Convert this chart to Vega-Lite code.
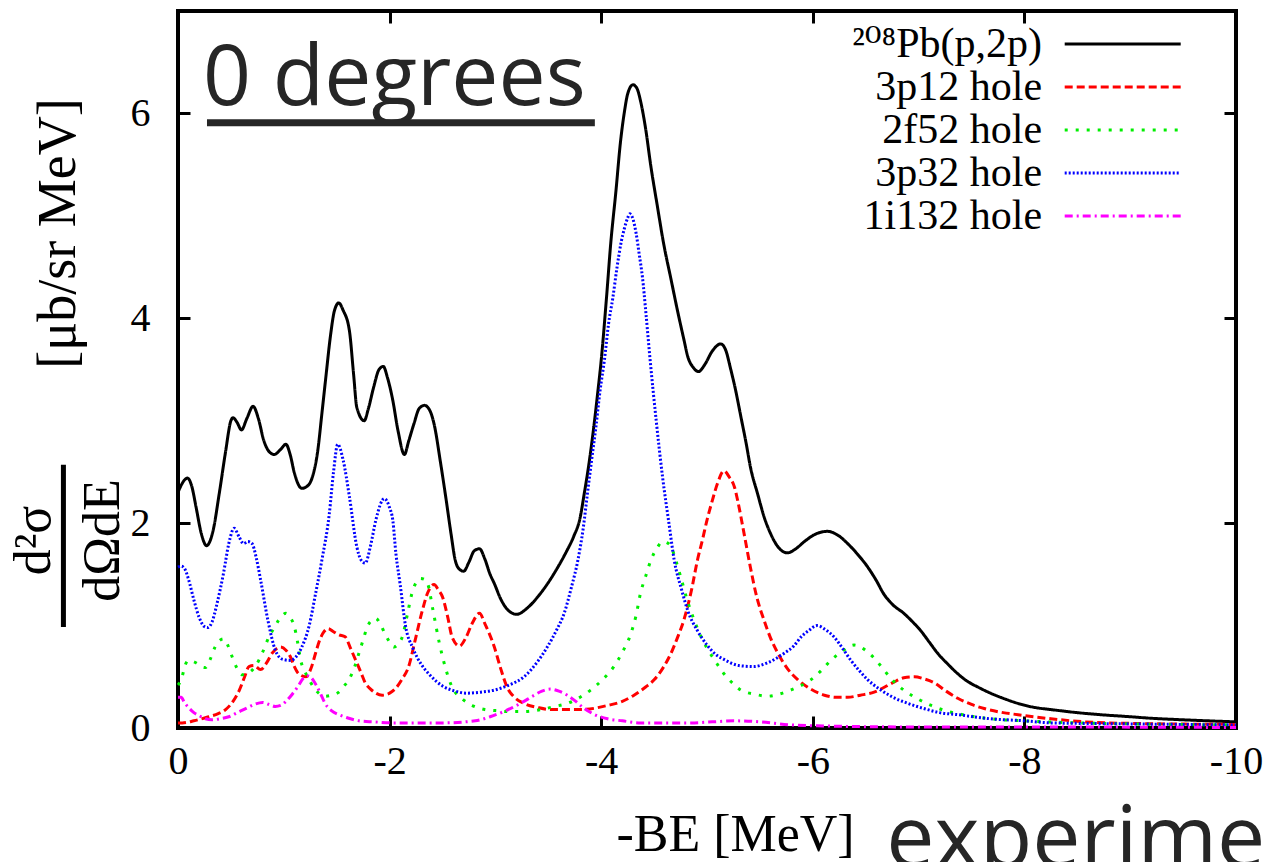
{
  "$schema": "https://vega.github.io/schema/vega-lite/v6.json",
  "width": 1058,
  "height": 717,
  "autosize": "none",
  "padding": {"left": 178, "top": 11, "right": 32, "bottom": 134},
  "background": "white",
  "config": {
    "view": {"stroke": "black", "strokeWidth": 4},
    "axis": {"grid": false, "domain": false, "tickColor": "black", "tickWidth": 3, "tickSize": -12,
      "labelFont": "Liberation Serif", "labelFontSize": 40, "labelColor": "black",
      "titleFont": "Liberation Serif", "titleFontWeight": "normal", "titleColor": "black"},
    "legend": {"orient": "none", "legendX": 890, "legendY": 12, "padding": 0, "symbolType": "M-10,0H10",
      "symbolSize": 134.56, "symbolStrokeWidth": 3, "symbolOffset": 33.7, "labelFont": "Liberation Serif, DejaVu Serif", "labelFontSize": 42,
      "labelColor": "black", "labelAlign": "right", "labelOffset": -101.6,
      "rowPadding": 1, "labelLimit": 0}
  },
  "datasets": {
    "curves": [
      {"series":"²⁰⁸Pb(p,2p)","be":0,"sigma":2.3},{"series":"²⁰⁸Pb(p,2p)","be":-0.03,"sigma":2.37},{"series":"²⁰⁸Pb(p,2p)","be":-0.09,"sigma":2.44},{"series":"²⁰⁸Pb(p,2p)","be":-0.13,"sigma":2.36},{"series":"²⁰⁸Pb(p,2p)","be":-0.17,"sigma":2.16},{"series":"²⁰⁸Pb(p,2p)","be":-0.22,"sigma":1.9},{"series":"²⁰⁸Pb(p,2p)","be":-0.27,"sigma":1.78},{"series":"²⁰⁸Pb(p,2p)","be":-0.33,"sigma":1.92},{"series":"²⁰⁸Pb(p,2p)","be":-0.39,"sigma":2.29},{"series":"²⁰⁸Pb(p,2p)","be":-0.45,"sigma":2.7},{"series":"²⁰⁸Pb(p,2p)","be":-0.5,"sigma":3.0},{"series":"²⁰⁸Pb(p,2p)","be":-0.52,"sigma":3.03},{"series":"²⁰⁸Pb(p,2p)","be":-0.56,"sigma":2.98},{"series":"²⁰⁸Pb(p,2p)","be":-0.6,"sigma":2.91},{"series":"²⁰⁸Pb(p,2p)","be":-0.65,"sigma":3.02},{"series":"²⁰⁸Pb(p,2p)","be":-0.71,"sigma":3.14},{"series":"²⁰⁸Pb(p,2p)","be":-0.76,"sigma":3.02},{"series":"²⁰⁸Pb(p,2p)","be":-0.81,"sigma":2.81},{"series":"²⁰⁸Pb(p,2p)","be":-0.86,"sigma":2.7},{"series":"²⁰⁸Pb(p,2p)","be":-0.91,"sigma":2.67},{"series":"²⁰⁸Pb(p,2p)","be":-0.97,"sigma":2.72},{"series":"²⁰⁸Pb(p,2p)","be":-1.02,"sigma":2.77},{"series":"²⁰⁸Pb(p,2p)","be":-1.06,"sigma":2.67},{"series":"²⁰⁸Pb(p,2p)","be":-1.1,"sigma":2.49},{"series":"²⁰⁸Pb(p,2p)","be":-1.17,"sigma":2.34},{"series":"²⁰⁸Pb(p,2p)","be":-1.22,"sigma":2.36},{"series":"²⁰⁸Pb(p,2p)","be":-1.27,"sigma":2.45},{"series":"²⁰⁸Pb(p,2p)","be":-1.32,"sigma":2.7},{"series":"²⁰⁸Pb(p,2p)","be":-1.36,"sigma":3.07},{"series":"²⁰⁸Pb(p,2p)","be":-1.4,"sigma":3.45},{"series":"²⁰⁸Pb(p,2p)","be":-1.44,"sigma":3.82},{"series":"²⁰⁸Pb(p,2p)","be":-1.48,"sigma":4.08},{"series":"²⁰⁸Pb(p,2p)","be":-1.52,"sigma":4.15},{"series":"²⁰⁸Pb(p,2p)","be":-1.56,"sigma":4.08},{"series":"²⁰⁸Pb(p,2p)","be":-1.62,"sigma":3.88},{"series":"²⁰⁸Pb(p,2p)","be":-1.66,"sigma":3.45},{"series":"²⁰⁸Pb(p,2p)","be":-1.69,"sigma":3.13},{"series":"²⁰⁸Pb(p,2p)","be":-1.76,"sigma":3.0},{"series":"²⁰⁸Pb(p,2p)","be":-1.8,"sigma":3.12},{"series":"²⁰⁸Pb(p,2p)","be":-1.85,"sigma":3.33},{"series":"²⁰⁸Pb(p,2p)","be":-1.9,"sigma":3.5},{"series":"²⁰⁸Pb(p,2p)","be":-1.94,"sigma":3.53},{"series":"²⁰⁸Pb(p,2p)","be":-1.98,"sigma":3.42},{"series":"²⁰⁸Pb(p,2p)","be":-2.03,"sigma":3.2},{"series":"²⁰⁸Pb(p,2p)","be":-2.08,"sigma":2.9},{"series":"²⁰⁸Pb(p,2p)","be":-2.14,"sigma":2.67},{"series":"²⁰⁸Pb(p,2p)","be":-2.18,"sigma":2.8},{"series":"²⁰⁸Pb(p,2p)","be":-2.23,"sigma":2.97},{"series":"²⁰⁸Pb(p,2p)","be":-2.28,"sigma":3.12},{"series":"²⁰⁸Pb(p,2p)","be":-2.33,"sigma":3.15},{"series":"²⁰⁸Pb(p,2p)","be":-2.38,"sigma":3.1},{"series":"²⁰⁸Pb(p,2p)","be":-2.42,"sigma":2.97},{"series":"²⁰⁸Pb(p,2p)","be":-2.48,"sigma":2.6},{"series":"²⁰⁸Pb(p,2p)","be":-2.53,"sigma":2.26},{"series":"²⁰⁸Pb(p,2p)","be":-2.58,"sigma":1.9},{"series":"²⁰⁸Pb(p,2p)","be":-2.62,"sigma":1.64},{"series":"²⁰⁸Pb(p,2p)","be":-2.66,"sigma":1.55},{"series":"²⁰⁸Pb(p,2p)","be":-2.7,"sigma":1.53},{"series":"²⁰⁸Pb(p,2p)","be":-2.75,"sigma":1.62},{"series":"²⁰⁸Pb(p,2p)","be":-2.8,"sigma":1.73},{"series":"²⁰⁸Pb(p,2p)","be":-2.85,"sigma":1.75},{"series":"²⁰⁸Pb(p,2p)","be":-2.9,"sigma":1.65},{"series":"²⁰⁸Pb(p,2p)","be":-2.95,"sigma":1.5},{"series":"²⁰⁸Pb(p,2p)","be":-2.99,"sigma":1.41},{"series":"²⁰⁸Pb(p,2p)","be":-3.05,"sigma":1.26},{"series":"²⁰⁸Pb(p,2p)","be":-3.12,"sigma":1.15},{"series":"²⁰⁸Pb(p,2p)","be":-3.2,"sigma":1.11},{"series":"²⁰⁸Pb(p,2p)","be":-3.3,"sigma":1.17},{"series":"²⁰⁸Pb(p,2p)","be":-3.4,"sigma":1.28},{"series":"²⁰⁸Pb(p,2p)","be":-3.5,"sigma":1.42},{"series":"²⁰⁸Pb(p,2p)","be":-3.59,"sigma":1.57},{"series":"²⁰⁸Pb(p,2p)","be":-3.67,"sigma":1.72},{"series":"²⁰⁸Pb(p,2p)","be":-3.74,"sigma":1.87},{"series":"²⁰⁸Pb(p,2p)","be":-3.8,"sigma":2.05},{"series":"²⁰⁸Pb(p,2p)","be":-3.84,"sigma":2.29},{"series":"²⁰⁸Pb(p,2p)","be":-3.88,"sigma":2.55},{"series":"²⁰⁸Pb(p,2p)","be":-3.93,"sigma":2.94},{"series":"²⁰⁸Pb(p,2p)","be":-3.97,"sigma":3.3},{"series":"²⁰⁸Pb(p,2p)","be":-4.0,"sigma":3.59},{"series":"²⁰⁸Pb(p,2p)","be":-4.05,"sigma":4.2},{"series":"²⁰⁸Pb(p,2p)","be":-4.09,"sigma":4.73},{"series":"²⁰⁸Pb(p,2p)","be":-4.14,"sigma":5.25},{"series":"²⁰⁸Pb(p,2p)","be":-4.18,"sigma":5.7},{"series":"²⁰⁸Pb(p,2p)","be":-4.22,"sigma":6.02},{"series":"²⁰⁸Pb(p,2p)","be":-4.25,"sigma":6.19},{"series":"²⁰⁸Pb(p,2p)","be":-4.3,"sigma":6.28},{"series":"²⁰⁸Pb(p,2p)","be":-4.34,"sigma":6.24},{"series":"²⁰⁸Pb(p,2p)","be":-4.37,"sigma":6.13},{"series":"²⁰⁸Pb(p,2p)","be":-4.42,"sigma":5.85},{"series":"²⁰⁸Pb(p,2p)","be":-4.47,"sigma":5.48},{"series":"²⁰⁸Pb(p,2p)","be":-4.53,"sigma":5.1},{"series":"²⁰⁸Pb(p,2p)","be":-4.59,"sigma":4.73},{"series":"²⁰⁸Pb(p,2p)","be":-4.66,"sigma":4.38},{"series":"²⁰⁸Pb(p,2p)","be":-4.72,"sigma":4.08},{"series":"²⁰⁸Pb(p,2p)","be":-4.78,"sigma":3.8},{"series":"²⁰⁸Pb(p,2p)","be":-4.82,"sigma":3.62},{"series":"²⁰⁸Pb(p,2p)","be":-4.87,"sigma":3.52},{"series":"²⁰⁸Pb(p,2p)","be":-4.92,"sigma":3.48},{"series":"²⁰⁸Pb(p,2p)","be":-4.98,"sigma":3.55},{"series":"²⁰⁸Pb(p,2p)","be":-5.05,"sigma":3.68},{"series":"²⁰⁸Pb(p,2p)","be":-5.13,"sigma":3.75},{"series":"²⁰⁸Pb(p,2p)","be":-5.18,"sigma":3.68},{"series":"²⁰⁸Pb(p,2p)","be":-5.22,"sigma":3.52},{"series":"²⁰⁸Pb(p,2p)","be":-5.27,"sigma":3.3},{"series":"²⁰⁸Pb(p,2p)","be":-5.32,"sigma":3.04},{"series":"²⁰⁸Pb(p,2p)","be":-5.37,"sigma":2.78},{"series":"²⁰⁸Pb(p,2p)","be":-5.41,"sigma":2.55},{"series":"²⁰⁸Pb(p,2p)","be":-5.48,"sigma":2.28},{"series":"²⁰⁸Pb(p,2p)","be":-5.54,"sigma":2.06},{"series":"²⁰⁸Pb(p,2p)","be":-5.6,"sigma":1.9},{"series":"²⁰⁸Pb(p,2p)","be":-5.67,"sigma":1.77},{"series":"²⁰⁸Pb(p,2p)","be":-5.76,"sigma":1.71},{"series":"²⁰⁸Pb(p,2p)","be":-5.84,"sigma":1.75},{"series":"²⁰⁸Pb(p,2p)","be":-5.92,"sigma":1.82},{"series":"²⁰⁸Pb(p,2p)","be":-6.02,"sigma":1.89},{"series":"²⁰⁸Pb(p,2p)","be":-6.14,"sigma":1.92},{"series":"²⁰⁸Pb(p,2p)","be":-6.24,"sigma":1.88},{"series":"²⁰⁸Pb(p,2p)","be":-6.33,"sigma":1.8},{"series":"²⁰⁸Pb(p,2p)","be":-6.42,"sigma":1.7},{"series":"²⁰⁸Pb(p,2p)","be":-6.52,"sigma":1.57},{"series":"²⁰⁸Pb(p,2p)","be":-6.6,"sigma":1.44},{"series":"²⁰⁸Pb(p,2p)","be":-6.67,"sigma":1.31},{"series":"²⁰⁸Pb(p,2p)","be":-6.76,"sigma":1.2},{"series":"²⁰⁸Pb(p,2p)","be":-6.86,"sigma":1.12},{"series":"²⁰⁸Pb(p,2p)","be":-6.94,"sigma":1.04},{"series":"²⁰⁸Pb(p,2p)","be":-7.02,"sigma":0.95},{"series":"²⁰⁸Pb(p,2p)","be":-7.1,"sigma":0.84},{"series":"²⁰⁸Pb(p,2p)","be":-7.18,"sigma":0.73},{"series":"²⁰⁸Pb(p,2p)","be":-7.28,"sigma":0.62},{"series":"²⁰⁸Pb(p,2p)","be":-7.37,"sigma":0.53},{"series":"²⁰⁸Pb(p,2p)","be":-7.47,"sigma":0.45},{"series":"²⁰⁸Pb(p,2p)","be":-7.56,"sigma":0.4},{"series":"²⁰⁸Pb(p,2p)","be":-7.68,"sigma":0.34},{"series":"²⁰⁸Pb(p,2p)","be":-7.8,"sigma":0.29},{"series":"²⁰⁸Pb(p,2p)","be":-7.94,"sigma":0.24},{"series":"²⁰⁸Pb(p,2p)","be":-8.1,"sigma":0.2},{"series":"²⁰⁸Pb(p,2p)","be":-8.25,"sigma":0.18},{"series":"²⁰⁸Pb(p,2p)","be":-8.5,"sigma":0.15},{"series":"²⁰⁸Pb(p,2p)","be":-8.72,"sigma":0.13},{"series":"²⁰⁸Pb(p,2p)","be":-9.0,"sigma":0.11},{"series":"²⁰⁸Pb(p,2p)","be":-9.2,"sigma":0.095},{"series":"²⁰⁸Pb(p,2p)","be":-9.5,"sigma":0.08},{"series":"²⁰⁸Pb(p,2p)","be":-10.0,"sigma":0.06},

      {"series":"3p12 hole","be":0,"sigma":0.05},{"series":"3p12 hole","be":-0.04,"sigma":0.05},{"series":"3p12 hole","be":-0.15,"sigma":0.07},{"series":"3p12 hole","be":-0.29,"sigma":0.11},{"series":"3p12 hole","be":-0.38,"sigma":0.14},{"series":"3p12 hole","be":-0.45,"sigma":0.18},{"series":"3p12 hole","be":-0.52,"sigma":0.26},{"series":"3p12 hole","be":-0.58,"sigma":0.37},{"series":"3p12 hole","be":-0.63,"sigma":0.5},{"series":"3p12 hole","be":-0.67,"sigma":0.6},{"series":"3p12 hole","be":-0.72,"sigma":0.61},{"series":"3p12 hole","be":-0.78,"sigma":0.57},{"series":"3p12 hole","be":-0.84,"sigma":0.64},{"series":"3p12 hole","be":-0.89,"sigma":0.73},{"series":"3p12 hole","be":-0.97,"sigma":0.79},{"series":"3p12 hole","be":-1.02,"sigma":0.76},{"series":"3p12 hole","be":-1.06,"sigma":0.7},{"series":"3p12 hole","be":-1.1,"sigma":0.6},{"series":"3p12 hole","be":-1.14,"sigma":0.53},{"series":"3p12 hole","be":-1.21,"sigma":0.5},{"series":"3p12 hole","be":-1.26,"sigma":0.59},{"series":"3p12 hole","be":-1.3,"sigma":0.73},{"series":"3p12 hole","be":-1.34,"sigma":0.86},{"series":"3p12 hole","be":-1.38,"sigma":0.94},{"series":"3p12 hole","be":-1.42,"sigma":0.97},{"series":"3p12 hole","be":-1.47,"sigma":0.94},{"series":"3p12 hole","be":-1.52,"sigma":0.91},{"series":"3p12 hole","be":-1.58,"sigma":0.89},{"series":"3p12 hole","be":-1.63,"sigma":0.78},{"series":"3p12 hole","be":-1.68,"sigma":0.66},{"series":"3p12 hole","be":-1.73,"sigma":0.54},{"series":"3p12 hole","be":-1.77,"sigma":0.44},{"series":"3p12 hole","be":-1.82,"sigma":0.38},{"series":"3p12 hole","be":-1.87,"sigma":0.34},{"series":"3p12 hole","be":-1.93,"sigma":0.32},{"series":"3p12 hole","be":-2.0,"sigma":0.34},{"series":"3p12 hole","be":-2.06,"sigma":0.39},{"series":"3p12 hole","be":-2.12,"sigma":0.48},{"series":"3p12 hole","be":-2.18,"sigma":0.6},{"series":"3p12 hole","be":-2.24,"sigma":0.85},{"series":"3p12 hole","be":-2.31,"sigma":1.15},{"series":"3p12 hole","be":-2.36,"sigma":1.32},{"series":"3p12 hole","be":-2.42,"sigma":1.4},{"series":"3p12 hole","be":-2.46,"sigma":1.35},{"series":"3p12 hole","be":-2.5,"sigma":1.28},{"series":"3p12 hole","be":-2.55,"sigma":1.08},{"series":"3p12 hole","be":-2.59,"sigma":0.89},{"series":"3p12 hole","be":-2.66,"sigma":0.8},{"series":"3p12 hole","be":-2.72,"sigma":0.88},{"series":"3p12 hole","be":-2.78,"sigma":1.02},{"series":"3p12 hole","be":-2.85,"sigma":1.12},{"series":"3p12 hole","be":-2.9,"sigma":1.02},{"series":"3p12 hole","be":-2.99,"sigma":0.79},{"series":"3p12 hole","be":-3.05,"sigma":0.58},{"series":"3p12 hole","be":-3.11,"sigma":0.4},{"series":"3p12 hole","be":-3.18,"sigma":0.3},{"series":"3p12 hole","be":-3.27,"sigma":0.24},{"series":"3p12 hole","be":-3.4,"sigma":0.2},{"series":"3p12 hole","be":-3.52,"sigma":0.18},{"series":"3p12 hole","be":-3.7,"sigma":0.18},{"series":"3p12 hole","be":-3.81,"sigma":0.18},{"series":"3p12 hole","be":-4.06,"sigma":0.22},{"series":"3p12 hole","be":-4.2,"sigma":0.26},{"series":"3p12 hole","be":-4.31,"sigma":0.32},{"series":"3p12 hole","be":-4.42,"sigma":0.4},{"series":"3p12 hole","be":-4.5,"sigma":0.47},{"series":"3p12 hole","be":-4.58,"sigma":0.58},{"series":"3p12 hole","be":-4.66,"sigma":0.73},{"series":"3p12 hole","be":-4.72,"sigma":0.88},{"series":"3p12 hole","be":-4.78,"sigma":1.05},{"series":"3p12 hole","be":-4.85,"sigma":1.33},{"series":"3p12 hole","be":-4.91,"sigma":1.64},{"series":"3p12 hole","be":-4.96,"sigma":1.85},{"series":"3p12 hole","be":-5.0,"sigma":2.03},{"series":"3p12 hole","be":-5.05,"sigma":2.22},{"series":"3p12 hole","be":-5.1,"sigma":2.39},{"series":"3p12 hole","be":-5.16,"sigma":2.51},{"series":"3p12 hole","be":-5.21,"sigma":2.45},{"series":"3p12 hole","be":-5.26,"sigma":2.35},{"series":"3p12 hole","be":-5.29,"sigma":2.22},{"series":"3p12 hole","be":-5.35,"sigma":1.9},{"series":"3p12 hole","be":-5.41,"sigma":1.57},{"series":"3p12 hole","be":-5.47,"sigma":1.28},{"series":"3p12 hole","be":-5.54,"sigma":1.05},{"series":"3p12 hole","be":-5.6,"sigma":0.88},{"series":"3p12 hole","be":-5.67,"sigma":0.73},{"series":"3p12 hole","be":-5.76,"sigma":0.58},{"series":"3p12 hole","be":-5.86,"sigma":0.47},{"series":"3p12 hole","be":-5.98,"sigma":0.38},{"series":"3p12 hole","be":-6.11,"sigma":0.32},{"series":"3p12 hole","be":-6.22,"sigma":0.3},{"series":"3p12 hole","be":-6.33,"sigma":0.3},{"series":"3p12 hole","be":-6.45,"sigma":0.32},{"series":"3p12 hole","be":-6.58,"sigma":0.35},{"series":"3p12 hole","be":-6.68,"sigma":0.4},{"series":"3p12 hole","be":-6.77,"sigma":0.45},{"series":"3p12 hole","be":-6.86,"sigma":0.49},{"series":"3p12 hole","be":-6.96,"sigma":0.5},{"series":"3p12 hole","be":-7.05,"sigma":0.48},{"series":"3p12 hole","be":-7.15,"sigma":0.44},{"series":"3p12 hole","be":-7.26,"sigma":0.36},{"series":"3p12 hole","be":-7.37,"sigma":0.29},{"series":"3p12 hole","be":-7.5,"sigma":0.23},{"series":"3p12 hole","be":-7.62,"sigma":0.19},{"series":"3p12 hole","be":-7.8,"sigma":0.15},{"series":"3p12 hole","be":-7.94,"sigma":0.13},{"series":"3p12 hole","be":-8.25,"sigma":0.09},{"series":"3p12 hole","be":-8.57,"sigma":0.06},{"series":"3p12 hole","be":-9.0,"sigma":0.045},{"series":"3p12 hole","be":-10.0,"sigma":0.035},

      {"series":"2f52 hole","be":0,"sigma":0.42},{"series":"2f52 hole","be":-0.03,"sigma":0.47},{"series":"2f52 hole","be":-0.07,"sigma":0.62},{"series":"2f52 hole","be":-0.1,"sigma":0.66},{"series":"2f52 hole","be":-0.14,"sigma":0.65},{"series":"2f52 hole","be":-0.18,"sigma":0.63},{"series":"2f52 hole","be":-0.22,"sigma":0.6},{"series":"2f52 hole","be":-0.26,"sigma":0.59},{"series":"2f52 hole","be":-0.3,"sigma":0.66},{"series":"2f52 hole","be":-0.35,"sigma":0.79},{"series":"2f52 hole","be":-0.4,"sigma":0.86},{"series":"2f52 hole","be":-0.43,"sigma":0.87},{"series":"2f52 hole","be":-0.47,"sigma":0.81},{"series":"2f52 hole","be":-0.51,"sigma":0.7},{"series":"2f52 hole","be":-0.56,"sigma":0.58},{"series":"2f52 hole","be":-0.61,"sigma":0.52},{"series":"2f52 hole","be":-0.67,"sigma":0.54},{"series":"2f52 hole","be":-0.73,"sigma":0.6},{"series":"2f52 hole","be":-0.8,"sigma":0.74},{"series":"2f52 hole","be":-0.86,"sigma":0.89},{"series":"2f52 hole","be":-0.91,"sigma":0.98},{"series":"2f52 hole","be":-0.95,"sigma":1.05},{"series":"2f52 hole","be":-1.02,"sigma":1.12},{"series":"2f52 hole","be":-1.06,"sigma":1.08},{"series":"2f52 hole","be":-1.1,"sigma":0.99},{"series":"2f52 hole","be":-1.13,"sigma":0.84},{"series":"2f52 hole","be":-1.16,"sigma":0.66},{"series":"2f52 hole","be":-1.2,"sigma":0.55},{"series":"2f52 hole","be":-1.24,"sigma":0.47},{"series":"2f52 hole","be":-1.28,"sigma":0.4},{"series":"2f52 hole","be":-1.33,"sigma":0.34},{"series":"2f52 hole","be":-1.39,"sigma":0.31},{"series":"2f52 hole","be":-1.45,"sigma":0.32},{"series":"2f52 hole","be":-1.52,"sigma":0.35},{"series":"2f52 hole","be":-1.57,"sigma":0.41},{"series":"2f52 hole","be":-1.62,"sigma":0.48},{"series":"2f52 hole","be":-1.67,"sigma":0.6},{"series":"2f52 hole","be":-1.71,"sigma":0.73},{"series":"2f52 hole","be":-1.75,"sigma":0.86},{"series":"2f52 hole","be":-1.79,"sigma":0.99},{"series":"2f52 hole","be":-1.83,"sigma":1.05},{"series":"2f52 hole","be":-1.87,"sigma":1.07},{"series":"2f52 hole","be":-1.91,"sigma":1.02},{"series":"2f52 hole","be":-1.96,"sigma":0.91},{"series":"2f52 hole","be":-2.0,"sigma":0.84},{"series":"2f52 hole","be":-2.04,"sigma":0.79},{"series":"2f52 hole","be":-2.08,"sigma":0.82},{"series":"2f52 hole","be":-2.12,"sigma":0.89},{"series":"2f52 hole","be":-2.17,"sigma":1.12},{"series":"2f52 hole","be":-2.21,"sigma":1.31},{"series":"2f52 hole","be":-2.25,"sigma":1.42},{"series":"2f52 hole","be":-2.29,"sigma":1.46},{"series":"2f52 hole","be":-2.33,"sigma":1.45},{"series":"2f52 hole","be":-2.36,"sigma":1.41},{"series":"2f52 hole","be":-2.41,"sigma":1.15},{"series":"2f52 hole","be":-2.47,"sigma":0.83},{"series":"2f52 hole","be":-2.53,"sigma":0.58},{"series":"2f52 hole","be":-2.59,"sigma":0.4},{"series":"2f52 hole","be":-2.68,"sigma":0.29},{"series":"2f52 hole","be":-2.78,"sigma":0.22},{"series":"2f52 hole","be":-2.9,"sigma":0.18},{"series":"2f52 hole","be":-3.0,"sigma":0.17},{"series":"2f52 hole","be":-3.11,"sigma":0.16},{"series":"2f52 hole","be":-3.27,"sigma":0.16},{"series":"2f52 hole","be":-3.43,"sigma":0.18},{"series":"2f52 hole","be":-3.56,"sigma":0.21},{"series":"2f52 hole","be":-3.68,"sigma":0.24},{"series":"2f52 hole","be":-3.8,"sigma":0.3},{"series":"2f52 hole","be":-3.9,"sigma":0.37},{"series":"2f52 hole","be":-4.01,"sigma":0.47},{"series":"2f52 hole","be":-4.12,"sigma":0.6},{"series":"2f52 hole","be":-4.2,"sigma":0.74},{"series":"2f52 hole","be":-4.28,"sigma":0.92},{"series":"2f52 hole","be":-4.33,"sigma":1.1},{"series":"2f52 hole","be":-4.37,"sigma":1.31},{"series":"2f52 hole","be":-4.42,"sigma":1.48},{"series":"2f52 hole","be":-4.47,"sigma":1.64},{"series":"2f52 hole","be":-4.53,"sigma":1.76},{"series":"2f52 hole","be":-4.58,"sigma":1.82},{"series":"2f52 hole","be":-4.62,"sigma":1.81},{"series":"2f52 hole","be":-4.66,"sigma":1.77},{"series":"2f52 hole","be":-4.71,"sigma":1.62},{"series":"2f52 hole","be":-4.75,"sigma":1.48},{"series":"2f52 hole","be":-4.81,"sigma":1.26},{"series":"2f52 hole","be":-4.88,"sigma":1.05},{"series":"2f52 hole","be":-4.94,"sigma":0.9},{"series":"2f52 hole","be":-5.0,"sigma":0.78},{"series":"2f52 hole","be":-5.08,"sigma":0.65},{"series":"2f52 hole","be":-5.16,"sigma":0.53},{"series":"2f52 hole","be":-5.25,"sigma":0.43},{"series":"2f52 hole","be":-5.32,"sigma":0.37},{"series":"2f52 hole","be":-5.45,"sigma":0.33},{"series":"2f52 hole","be":-5.57,"sigma":0.31},{"series":"2f52 hole","be":-5.68,"sigma":0.33},{"series":"2f52 hole","be":-5.79,"sigma":0.37},{"series":"2f52 hole","be":-5.9,"sigma":0.42},{"series":"2f52 hole","be":-5.98,"sigma":0.47},{"series":"2f52 hole","be":-6.08,"sigma":0.56},{"series":"2f52 hole","be":-6.17,"sigma":0.66},{"series":"2f52 hole","be":-6.28,"sigma":0.75},{"series":"2f52 hole","be":-6.39,"sigma":0.81},{"series":"2f52 hole","be":-6.45,"sigma":0.79},{"series":"2f52 hole","be":-6.52,"sigma":0.74},{"series":"2f52 hole","be":-6.6,"sigma":0.66},{"series":"2f52 hole","be":-6.67,"sigma":0.57},{"series":"2f52 hole","be":-6.76,"sigma":0.46},{"series":"2f52 hole","be":-6.86,"sigma":0.37},{"series":"2f52 hole","be":-7.0,"sigma":0.28},{"series":"2f52 hole","be":-7.12,"sigma":0.22},{"series":"2f52 hole","be":-7.25,"sigma":0.17},{"series":"2f52 hole","be":-7.37,"sigma":0.14},{"series":"2f52 hole","be":-7.68,"sigma":0.09},{"series":"2f52 hole","be":-8.0,"sigma":0.07},{"series":"2f52 hole","be":-8.5,"sigma":0.05},{"series":"2f52 hole","be":-9.0,"sigma":0.04},{"series":"2f52 hole","be":-10.0,"sigma":0.03},

      {"series":"3p32 hole","be":0,"sigma":1.57},{"series":"3p32 hole","be":-0.03,"sigma":1.58},{"series":"3p32 hole","be":-0.06,"sigma":1.56},{"series":"3p32 hole","be":-0.1,"sigma":1.45},{"series":"3p32 hole","be":-0.15,"sigma":1.25},{"series":"3p32 hole","be":-0.2,"sigma":1.08},{"series":"3p32 hole","be":-0.25,"sigma":0.99},{"series":"3p32 hole","be":-0.28,"sigma":0.98},{"series":"3p32 hole","be":-0.32,"sigma":1.03},{"series":"3p32 hole","be":-0.37,"sigma":1.22},{"series":"3p32 hole","be":-0.43,"sigma":1.51},{"series":"3p32 hole","be":-0.48,"sigma":1.8},{"series":"3p32 hole","be":-0.53,"sigma":1.95},{"series":"3p32 hole","be":-0.58,"sigma":1.86},{"series":"3p32 hole","be":-0.62,"sigma":1.8},{"series":"3p32 hole","be":-0.66,"sigma":1.82},{"series":"3p32 hole","be":-0.7,"sigma":1.8},{"series":"3p32 hole","be":-0.74,"sigma":1.66},{"series":"3p32 hole","be":-0.78,"sigma":1.45},{"series":"3p32 hole","be":-0.85,"sigma":1.05},{"series":"3p32 hole","be":-0.92,"sigma":0.76},{"series":"3p32 hole","be":-0.99,"sigma":0.67},{"series":"3p32 hole","be":-1.06,"sigma":0.66},{"series":"3p32 hole","be":-1.12,"sigma":0.7},{"series":"3p32 hole","be":-1.17,"sigma":0.79},{"series":"3p32 hole","be":-1.24,"sigma":1.0},{"series":"3p32 hole","be":-1.3,"sigma":1.31},{"series":"3p32 hole","be":-1.36,"sigma":1.64},{"series":"3p32 hole","be":-1.43,"sigma":2.09},{"series":"3p32 hole","be":-1.47,"sigma":2.5},{"series":"3p32 hole","be":-1.51,"sigma":2.77},{"series":"3p32 hole","be":-1.56,"sigma":2.62},{"series":"3p32 hole","be":-1.62,"sigma":2.26},{"series":"3p32 hole","be":-1.69,"sigma":1.77},{"series":"3p32 hole","be":-1.73,"sigma":1.64},{"series":"3p32 hole","be":-1.77,"sigma":1.61},{"series":"3p32 hole","be":-1.82,"sigma":1.78},{"series":"3p32 hole","be":-1.87,"sigma":2.03},{"series":"3p32 hole","be":-1.95,"sigma":2.24},{"series":"3p32 hole","be":-2.0,"sigma":2.15},{"series":"3p32 hole","be":-2.03,"sigma":2.03},{"series":"3p32 hole","be":-2.06,"sigma":1.7},{"series":"3p32 hole","be":-2.1,"sigma":1.4},{"series":"3p32 hole","be":-2.15,"sigma":1.0},{"series":"3p32 hole","be":-2.22,"sigma":0.78},{"series":"3p32 hole","be":-2.3,"sigma":0.62},{"series":"3p32 hole","be":-2.37,"sigma":0.53},{"series":"3p32 hole","be":-2.5,"sigma":0.41},{"series":"3p32 hole","be":-2.62,"sigma":0.36},{"series":"3p32 hole","be":-2.73,"sigma":0.34},{"series":"3p32 hole","be":-2.86,"sigma":0.35},{"series":"3p32 hole","be":-2.99,"sigma":0.37},{"series":"3p32 hole","be":-3.13,"sigma":0.42},{"series":"3p32 hole","be":-3.27,"sigma":0.5},{"series":"3p32 hole","be":-3.4,"sigma":0.65},{"series":"3p32 hole","be":-3.49,"sigma":0.79},{"series":"3p32 hole","be":-3.58,"sigma":0.96},{"series":"3p32 hole","be":-3.65,"sigma":1.12},{"series":"3p32 hole","be":-3.72,"sigma":1.38},{"series":"3p32 hole","be":-3.78,"sigma":1.64},{"series":"3p32 hole","be":-3.83,"sigma":1.95},{"series":"3p32 hole","be":-3.87,"sigma":2.29},{"series":"3p32 hole","be":-3.91,"sigma":2.62},{"series":"3p32 hole","be":-3.95,"sigma":2.94},{"series":"3p32 hole","be":-3.99,"sigma":3.3},{"series":"3p32 hole","be":-4.03,"sigma":3.59},{"series":"3p32 hole","be":-4.07,"sigma":3.95},{"series":"3p32 hole","be":-4.11,"sigma":4.2},{"series":"3p32 hole","be":-4.15,"sigma":4.5},{"series":"3p32 hole","be":-4.19,"sigma":4.75},{"series":"3p32 hole","be":-4.22,"sigma":4.88},{"series":"3p32 hole","be":-4.25,"sigma":4.98},{"series":"3p32 hole","be":-4.27,"sigma":5.02},{"series":"3p32 hole","be":-4.3,"sigma":4.97},{"series":"3p32 hole","be":-4.33,"sigma":4.83},{"series":"3p32 hole","be":-4.36,"sigma":4.62},{"series":"3p32 hole","be":-4.39,"sigma":4.4},{"series":"3p32 hole","be":-4.42,"sigma":4.08},{"series":"3p32 hole","be":-4.46,"sigma":3.62},{"series":"3p32 hole","be":-4.52,"sigma":3.0},{"series":"3p32 hole","be":-4.58,"sigma":2.45},{"series":"3p32 hole","be":-4.64,"sigma":2.0},{"series":"3p32 hole","be":-4.69,"sigma":1.64},{"series":"3p32 hole","be":-4.76,"sigma":1.35},{"series":"3p32 hole","be":-4.82,"sigma":1.14},{"series":"3p32 hole","be":-4.91,"sigma":0.95},{"series":"3p32 hole","be":-5.0,"sigma":0.81},{"series":"3p32 hole","be":-5.08,"sigma":0.72},{"series":"3p32 hole","be":-5.16,"sigma":0.67},{"series":"3p32 hole","be":-5.3,"sigma":0.61},{"series":"3p32 hole","be":-5.44,"sigma":0.6},{"series":"3p32 hole","be":-5.58,"sigma":0.64},{"series":"3p32 hole","be":-5.73,"sigma":0.73},{"series":"3p32 hole","be":-5.82,"sigma":0.8},{"series":"3p32 hole","be":-5.89,"sigma":0.89},{"series":"3p32 hole","be":-5.96,"sigma":0.95},{"series":"3p32 hole","be":-6.04,"sigma":1.0},{"series":"3p32 hole","be":-6.12,"sigma":0.96},{"series":"3p32 hole","be":-6.2,"sigma":0.89},{"series":"3p32 hole","be":-6.28,"sigma":0.78},{"series":"3p32 hole","be":-6.36,"sigma":0.66},{"series":"3p32 hole","be":-6.44,"sigma":0.56},{"series":"3p32 hole","be":-6.52,"sigma":0.47},{"series":"3p32 hole","be":-6.63,"sigma":0.38},{"series":"3p32 hole","be":-6.74,"sigma":0.31},{"series":"3p32 hole","be":-6.9,"sigma":0.24},{"series":"3p32 hole","be":-7.05,"sigma":0.19},{"series":"3p32 hole","be":-7.2,"sigma":0.15},{"series":"3p32 hole","be":-7.37,"sigma":0.13},{"series":"3p32 hole","be":-7.68,"sigma":0.09},{"series":"3p32 hole","be":-8.0,"sigma":0.07},{"series":"3p32 hole","be":-8.25,"sigma":0.05},{"series":"3p32 hole","be":-9.0,"sigma":0.04},{"series":"3p32 hole","be":-10.0,"sigma":0.03},

      {"series":"1i132 hole","be":0,"sigma":0.3},{"series":"1i132 hole","be":-0.03,"sigma":0.3},{"series":"1i132 hole","be":-0.06,"sigma":0.25},{"series":"1i132 hole","be":-0.1,"sigma":0.2},{"series":"1i132 hole","be":-0.15,"sigma":0.15},{"series":"1i132 hole","be":-0.2,"sigma":0.12},{"series":"1i132 hole","be":-0.26,"sigma":0.09},{"series":"1i132 hole","be":-0.32,"sigma":0.08},{"series":"1i132 hole","be":-0.4,"sigma":0.09},{"series":"1i132 hole","be":-0.48,"sigma":0.11},{"series":"1i132 hole","be":-0.56,"sigma":0.15},{"series":"1i132 hole","be":-0.64,"sigma":0.19},{"series":"1i132 hole","be":-0.72,"sigma":0.23},{"series":"1i132 hole","be":-0.8,"sigma":0.25},{"series":"1i132 hole","be":-0.86,"sigma":0.23},{"series":"1i132 hole","be":-0.92,"sigma":0.21},{"series":"1i132 hole","be":-0.97,"sigma":0.22},{"series":"1i132 hole","be":-1.02,"sigma":0.26},{"series":"1i132 hole","be":-1.08,"sigma":0.33},{"series":"1i132 hole","be":-1.13,"sigma":0.4},{"series":"1i132 hole","be":-1.18,"sigma":0.48},{"series":"1i132 hole","be":-1.22,"sigma":0.51},{"series":"1i132 hole","be":-1.26,"sigma":0.49},{"series":"1i132 hole","be":-1.3,"sigma":0.43},{"series":"1i132 hole","be":-1.35,"sigma":0.33},{"series":"1i132 hole","be":-1.39,"sigma":0.24},{"series":"1i132 hole","be":-1.45,"sigma":0.17},{"series":"1i132 hole","be":-1.52,"sigma":0.13},{"series":"1i132 hole","be":-1.6,"sigma":0.1},{"series":"1i132 hole","be":-1.71,"sigma":0.07},{"series":"1i132 hole","be":-1.85,"sigma":0.06},{"series":"1i132 hole","be":-2.03,"sigma":0.05},{"series":"1i132 hole","be":-2.3,"sigma":0.05},{"series":"1i132 hole","be":-2.5,"sigma":0.05},{"series":"1i132 hole","be":-2.81,"sigma":0.07},{"series":"1i132 hole","be":-2.95,"sigma":0.11},{"series":"1i132 hole","be":-3.1,"sigma":0.17},{"series":"1i132 hole","be":-3.2,"sigma":0.22},{"series":"1i132 hole","be":-3.27,"sigma":0.26},{"series":"1i132 hole","be":-3.35,"sigma":0.31},{"series":"1i132 hole","be":-3.44,"sigma":0.36},{"series":"1i132 hole","be":-3.52,"sigma":0.38},{"series":"1i132 hole","be":-3.6,"sigma":0.36},{"series":"1i132 hole","be":-3.68,"sigma":0.32},{"series":"1i132 hole","be":-3.76,"sigma":0.26},{"series":"1i132 hole","be":-3.84,"sigma":0.19},{"series":"1i132 hole","be":-3.94,"sigma":0.13},{"series":"1i132 hole","be":-4.06,"sigma":0.09},{"series":"1i132 hole","be":-4.2,"sigma":0.07},{"series":"1i132 hole","be":-4.37,"sigma":0.05},{"series":"1i132 hole","be":-4.6,"sigma":0.05},{"series":"1i132 hole","be":-4.85,"sigma":0.05},{"series":"1i132 hole","be":-5.05,"sigma":0.06},{"series":"1i132 hole","be":-5.26,"sigma":0.07},{"series":"1i132 hole","be":-5.5,"sigma":0.06},{"series":"1i132 hole","be":-5.79,"sigma":0.03},{"series":"1i132 hole","be":-6.1,"sigma":0.02},{"series":"1i132 hole","be":-7.0,"sigma":0.01},{"series":"1i132 hole","be":-8.0,"sigma":0.01},{"series":"1i132 hole","be":-10.0,"sigma":0.005}
    ]
  },
  "resolve": {"axis": {"x": "independent", "y": "independent"}},
  "layer": [
    {
      "data": {"name": "curves"},
      "mark": {"type": "line", "strokeWidth": 3, "interpolate": "monotone"},
      "encoding": {
        "x": {"field": "be", "type": "quantitative",
          "scale": {"domain": [0, -10], "nice": false, "zero": false},
          "axis": {"orient": "bottom", "values": [0, -2, -4, -6, -8, -10], "labelExpr": "'' + datum.value",
            "labelBaseline": "alphabetic", "labelPadding": 57, "labelFlush": false,
            "title": "-BE [MeV]", "titleFontSize": 52, "titleX": 557, "titleY": 122, "titleBaseline": "alphabetic", "titleAnchor": "middle"}},
        "y": {"field": "sigma", "type": "quantitative",
          "scale": {"domain": [0, 7], "nice": false, "zero": false},
          "axis": {"orient": "left", "values": [0, 2, 4, 6], "labelPadding": 40, "labelBaseline": "middle",
            "title": ["d²σ", "dΩdE"], "titleFontSize": 52, "titleAngle": -90, "titleX": -145, "titleY": 529,
            "titleBaseline": "middle", "titleAlign": "center", "titleLineHeight": 69}},
        "order": {"field": "be", "type": "quantitative", "sort": "descending"},
        "color": {"field": "series", "type": "nominal",
          "scale": {"domain": ["²⁰⁸Pb(p,2p)", "3p12 hole", "2f52 hole", "3p32 hole", "1i132 hole"],
            "range": ["#000000", "#ff0000", "#00ee00", "#0000ff", "#ff00ff"]},
          "legend": {"title": null}},
        "strokeDash": {"field": "series", "type": "nominal",
          "scale": {"domain": ["²⁰⁸Pb(p,2p)", "3p12 hole", "2f52 hole", "3p32 hole", "1i132 hole"],
            "range": [[1, 0], [8, 4], [3, 8], [2, 2], [8, 4, 2, 4]]},
          "legend": {"title": null}}
      }
    },
    {
      "data": {"name": "curves"},
      "mark": {"type": "point", "opacity": 0},
      "encoding": {
        "x": {"field": "be", "type": "quantitative", "scale": {"domain": [0, -10], "nice": false, "zero": false},
          "axis": {"orient": "top", "values": [0, -2, -4, -6, -8, -10], "labels": false, "title": null}},
        "y": {"field": "sigma", "type": "quantitative", "scale": {"domain": [0, 7], "nice": false, "zero": false},
          "axis": {"orient": "right", "values": [0, 2, 4, 6], "labels": false,
            "title": "[μb/sr MeV]", "titleFontSize": 54, "titleAngle": -90, "titleX": -1178, "titleY": 222,
            "titleBaseline": "middle", "titleAlign": "center"}}
      }
    },
    {
      "data": {"values": [{}]},
      "mark": {"type": "text", "font": "Open Sans", "fontSize": 84, "color": "#262626", "align": "left", "baseline": "alphabetic"},
      "encoding": {
        "x": {"datum": -0.236, "type": "quantitative", "axis": null},
        "y": {"datum": 6.08, "type": "quantitative", "axis": null},
        "text": {"value": "0 degrees"}
      }
    },
    {
      "data": {"values": [{}]},
      "mark": {"type": "rule", "strokeWidth": 7, "color": "#262626"},
      "encoding": {
        "x": {"datum": -0.274, "type": "quantitative", "axis": null},
        "x2": {"datum": -3.94},
        "y": {"datum": 5.91, "type": "quantitative", "axis": null}
      }
    },
    {
      "data": {"values": [{}]},
      "mark": {"type": "rule", "strokeWidth": 5, "color": "black"},
      "encoding": {
        "x": {"datum": 1.083, "type": "quantitative", "axis": null},
        "y": {"datum": 0.985, "type": "quantitative", "axis": null},
        "y2": {"datum": 2.57}
      }
    },
    {
      "data": {"values": [{}]},
      "mark": {"type": "text", "font": "Open Sans", "fontSize": 86, "color": "#262626", "align": "left", "baseline": "alphabetic"},
      "encoding": {
        "x": {"datum": -6.695, "type": "quantitative", "axis": null},
        "y": {"datum": -1.36, "type": "quantitative", "axis": null},
        "text": {"value": "experiment"}
      }
    }
  ]
}
